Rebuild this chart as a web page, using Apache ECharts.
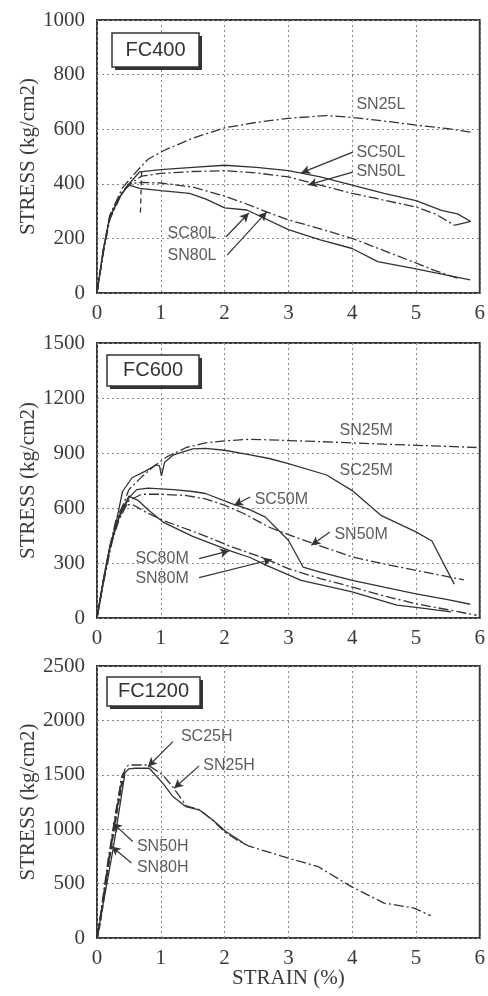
<!DOCTYPE html>
<html>
<head>
<meta charset="utf-8">
<script src="https://cdn.jsdelivr.net/npm/echarts@6/dist/echarts.min.js"></script>
<style>
  html, body { margin: 0; padding: 0; background: #fff; }
  #chart { width: 488px; height: 996px; }
</style>
</head>
<body>
<div id="chart"></div>
<script>
// ---- FC400 panel ----
const SN25L = [[0,0],[0.1,160],[0.2,285],[0.4,385],[0.6,440],[0.8,490],[1.05,522],[1.5,567],[2.0,605],[2.5,625],[3.0,640],[3.6,650],[4.0,643],[4.5,630],[5.0,615],[5.5,602],[5.9,588]];
const SC50L = [[0,0],[0.1,160],[0.2,280],[0.36,353],[0.51,402],[0.67,444],[1.0,452],[1.5,460],[2.0,468],[2.5,460],[3.0,448],[3.5,425],[4.0,395],[4.5,365],[5.0,338],[5.4,303],[5.65,290],[5.86,262],[5.6,248]];
const SN50L = [[0,0],[0.1,150],[0.2,270],[0.4,370],[0.55,405],[0.7,428],[1.0,438],[1.5,445],[2.0,448],[2.5,440],[3.0,425],[3.5,395],[4.0,365],[4.5,340],[5.0,315],[5.3,290],[5.6,249]];
const SN50Ldrop = [[0.7,445],[0.68,290]];
const SC80L = [[0,0],[0.1,160],[0.2,275],[0.35,350],[0.49,396],[0.67,383],[1.0,375],[1.45,365],[1.7,345],[2.0,312],[2.35,304],[3.0,232],[3.5,195],[4.0,163],[4.4,115],[5.0,88],[5.85,48]];
const SN80L = [[0,0],[0.1,150],[0.2,270],[0.35,355],[0.5,400],[0.7,405],[1.0,403],[1.5,388],[2.0,355],[2.3,330],[2.65,298],[3.0,268],[3.5,235],[4.0,200],[4.5,155],[5.0,110],[5.3,82],[5.65,54]];

// ---- FC600 panel ----
const SN25M = [[0,0],[0.1,190],[0.3,520],[0.5,700],[0.7,770],[0.9,830],[1.1,880],[1.4,930],[1.7,955],[2.0,966],[2.4,975],[3.0,968],[3.5,962],[4.0,955],[4.5,948],[5.0,942],[5.5,936],[5.95,930]];
const SC25M = [[0,0],[0.1,200],[0.2,380],[0.3,520],[0.4,690],[0.55,765],[0.75,800],[0.93,835],[0.98,830],[1.01,775],[1.06,850],[1.2,890],[1.5,922],[1.7,925],[2.0,915],[2.4,890],[2.7,870],[3.0,842],[3.6,780],[4.0,695],[4.45,560],[5.0,470],[5.25,420],[5.6,185]];
const SC50M = [[0,0],[0.1,210],[0.2,390],[0.35,550],[0.5,655],[0.62,700],[0.8,708],[1.2,700],[1.5,690],[1.7,679],[2.1,625],[2.4,590],[2.64,550],[3.0,424],[3.23,278],[3.5,250],[4.0,205],[4.5,168],[5.0,132],[5.5,100],[5.85,75]];
const SN50M = [[0,0],[0.1,200],[0.2,380],[0.35,540],[0.5,640],[0.7,675],[1.0,675],[1.4,668],[1.7,650],[2.0,615],[2.3,570],[2.7,495],[3.0,455],[3.4,405],[4.0,333],[4.5,295],[5.0,260],[5.4,232],[5.75,208]];
const SC80M = [[0,0],[0.1,200],[0.2,380],[0.35,560],[0.5,665],[0.65,640],[0.8,590],[1.05,520],[1.5,445],[2.1,365],[2.4,330],[2.64,290],[3.2,205],[4.0,142],[4.7,70],[5.0,58],[5.55,33]];
const SN80M = [[0,0],[0.1,210],[0.2,390],[0.3,540],[0.41,615],[0.55,620],[0.75,580],[1.03,533],[1.6,460],[2.12,387],[2.64,324],[3.0,269],[3.5,215],[4.0,169],[4.5,120],[5.0,78],[5.5,45],[5.95,15]];

// ---- FC1200 panel ----
const SC25H = [[0,0],[0.02,15],[0.25,810],[0.44,1520],[0.5,1555],[0.6,1560],[0.82,1560],[1.03,1423],[1.19,1300],[1.39,1208],[1.6,1178],[1.81,1086],[2.02,979],[2.22,903],[2.33,857]];
const SN25H = [[0,0],[0.02,60],[0.2,760],[0.38,1450],[0.45,1570],[0.5,1590],[0.8,1590],[1.03,1500],[1.2,1380],[1.4,1215],[1.6,1180],[1.8,1090],[2.0,975],[2.2,900],[2.38,845],[3.0,734],[3.47,655],[3.98,474],[4.5,321],[4.97,275],[5.23,205]];
const SN50H = [[0,0],[0.05,150],[0.2,760],[0.3,1130],[0.42,1520]];
const SN80H = [[0,0],[0.05,170],[0.18,720],[0.3,1160],[0.4,1500]];

// tick setup per panel
const xMax = 6;
const yMaxes = [1000, 1500, 2500];
const yIntervals = [200, 300, 500];
const panelNames = ['FC400', 'FC600', 'FC1200'];

// annotation text [x, y, text] and arrows [x1, y1, x2, y2]
const labels1 = [[4.45,689,'SN25L'],[4.45,516,'SC50L'],[4.45,443,'SN50L'],[1.49,216,'SC80L'],[1.49,136,'SN80L']];
const arrows1 = [[4.01,516,3.20,440],[4.01,443,3.31,396],[2.02,205,2.38,293],[2.04,139,2.66,297]];
const labels2 = [[4.22,1024,'SN25M'],[4.22,802,'SC25M'],[2.89,648,'SC50M'],[4.14,455,'SN50M'],[1.02,324,'SC80M'],[1.02,215,'SN80M']];
const arrows2 = [[2.40,660,2.15,615],[3.65,469,3.36,397],[1.60,324,2.07,366],[1.60,220,2.74,319]];
const labels3 = [[1.72,1851,'SC25H'],[2.07,1582,'SN25H'],[1.03,836,'SN50H'],[1.03,643,'SN80H']];
const arrows3 = [[1.19,1805,0.80,1576],[1.60,1582,1.21,1377],[0.56,887,0.25,1056],[0.54,689,0.23,841]];

const INK = '#333';
const serif = '"Liberation Serif", "DejaVu Serif", serif';
const sans = '"Liberation Sans", Arial, sans-serif';
const DASHDOT = [10, 3, 2, 3];

const grids = [
    { left: 97, top: 20, width: 386, height: 273 },
    { left: 97, top: 343, width: 386, height: 275 },
    { left: 97, top: 666, width: 386, height: 272 }
];

function line(name, data, idx, style, width) {
    return {
        name: name,
        type: 'line',
        xAxisIndex: idx,
        yAxisIndex: idx,
        data: data,
        symbol: 'none',
        smooth: false,
        lineStyle: { color: INK, width: width || 1.3, type: style || 'solid' },
        z: 3
    };
}

function notes(idx, labels, arrows) {
    return {
        type: 'scatter',
        xAxisIndex: idx,
        yAxisIndex: idx,
        data: labels,
        symbolSize: 1,
        itemStyle: { color: 'rgba(0,0,0,0)' },
        label: {
            show: true,
            position: 'inside',
            formatter: p => p.value[2],
            fontFamily: sans,
            fontSize: 16,
            color: INK
        },
        markLine: {
            silent: true,
            symbol: ['none', 'arrow'],
            symbolSize: [7, 9],
            label: { show: false },
            lineStyle: { color: INK, width: 1.2, type: 'solid' },
            data: arrows.map(a => [{ coord: [a[0], a[1]] }, { coord: [a[2], a[3]] }])
        },
        z: 4
    };
}

const plain = v => String(v);

const xAxes = grids.map((g, i) => ({
    type: 'value',
    gridIndex: i,
    min: 0,
    max: xMax,
    interval: 1,
    axisLine: { show: false },
    axisTick: { show: false },
    axisLabel: { fontFamily: serif, fontSize: 21, color: '#3a3a3a', margin: 10, formatter: plain },
    splitLine: { show: true, lineStyle: { color: '#888', type: [2, 3], width: 1 } },
    name: i === 2 ? 'STRAIN (%)' : '',
    nameLocation: 'middle',
    nameGap: 30,
    nameMoveOverlap: false,
    nameTextStyle: { fontFamily: serif, fontSize: 21, color: '#3a3a3a' }
}));

const yAxes = grids.map((g, i) => ({
    type: 'value',
    gridIndex: i,
    min: 0,
    max: yMaxes[i],
    interval: yIntervals[i],
    axisLine: { show: false },
    axisTick: { show: false },
    axisLabel: { fontFamily: serif, fontSize: 21, color: '#3a3a3a', margin: 12, formatter: plain },
    splitLine: { show: true, lineStyle: { color: '#888', type: [2, 3], width: 1 } },
    name: 'STRESS (kg/cm2)',
    nameLocation: 'middle',
    nameGap: 58,
    nameMoveOverlap: false,
    nameTextStyle: { fontFamily: serif, fontSize: 21, color: '#3a3a3a' }
}));

// FC boxes with a hard drop shadow
const boxes = [
    { x: 112, y: 33, w: 87, h: 34 },
    { x: 107, y: 355, w: 92, h: 31 },
    { x: 107, y: 677, w: 93, h: 29 }
];
const graphic = [];
boxes.forEach((b, i) => {
    graphic.push({ type: 'rect', shape: { x: b.x + 3, y: b.y + 3, width: b.w, height: b.h }, style: { fill: INK }, z: 10 });
    graphic.push({ type: 'rect', shape: { x: b.x, y: b.y, width: b.w, height: b.h }, style: { fill: '#fff', stroke: INK, lineWidth: 1.5 }, z: 11 });
    graphic.push({
        type: 'text', x: b.x + b.w / 2, y: b.y + b.h / 2, z: 12,
        style: { text: panelNames[i], font: '20px ' + sans, fill: INK, textAlign: 'center', textVerticalAlign: 'middle' }
    });
});

const chart = echarts.init(document.getElementById('chart'));
chart.setOption({
    animation: false,
    backgroundColor: '#fff',
    grid: grids.map(g => Object.assign({ show: true, borderColor: '#3a3a3a', borderWidth: 2, backgroundColor: 'transparent' }, g)),
    xAxis: xAxes,
    yAxis: yAxes,
    graphic: graphic,
    series: [
        line('SN25L', SN25L, 0, DASHDOT),
        line('SC50L', SC50L, 0),
        line('SN50L', SN50L, 0, DASHDOT),
        line('SN50L', SN50Ldrop, 0, [5, 4]),
        line('SC80L', SC80L, 0),
        line('SN80L', SN80L, 0, DASHDOT),
        notes(0, labels1, arrows1),

        line('SN25M', SN25M, 1, DASHDOT),
        line('SC25M', SC25M, 1),
        line('SC50M', SC50M, 1),
        line('SN50M', SN50M, 1, DASHDOT),
        line('SC80M', SC80M, 1),
        line('SN80M', SN80M, 1, DASHDOT),
        notes(1, labels2, arrows2),

        line('SC25H', SC25H, 2),
        line('SN25H', SN25H, 2, DASHDOT),
        line('SN50H', SN50H, 2, [6, 3], 2.2),
        line('SN80H', SN80H, 2, DASHDOT, 2),
        notes(2, labels3, arrows3)
    ]
});
</script>
</body>
</html>
